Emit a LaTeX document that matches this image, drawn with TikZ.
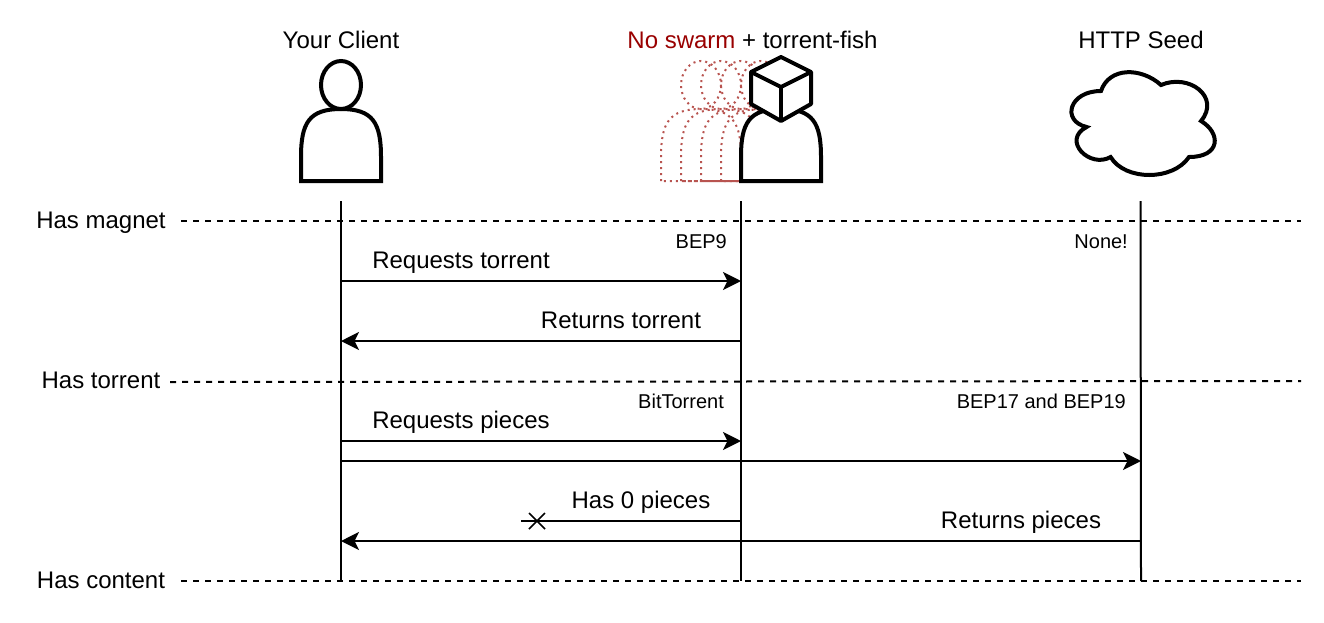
\documentclass[tikz,border=0pt]{standalone}
\usepackage{fontspec}
\setmainfont{Liberation Sans}
\usetikzlibrary{arrows.meta}
\definecolor{ghost}{HTML}{B85450}
\definecolor{swarm}{HTML}{990000}
\newcommand{\personshape}[2]{%
  \begin{scope}[shift={(#1,61)}]
    \draw[#2] (0,120) -- (0,96) .. controls (0,62) and (8,48) .. (40,48)
      .. controls (72,48) and (80,62) .. (80,96) -- (80,120) -- cycle;
    \draw[#2] (40,24) ellipse [x radius=20,y radius=24];
  \end{scope}}
\tikzset{
  x=1pt,y=-1pt,
  lbl/.style={inner sep=0pt,anchor=base,font=\fontsize{24}{28}\selectfont,text=black},
  small/.style={inner sep=0pt,anchor=base east,font=\fontsize{20}{24}\selectfont,text=black},
  icon/.style={draw=black,fill=white,line width=4pt,line join=miter},
  ghostperson/.style={draw=ghost,line width=2pt,dash pattern=on 2pt off 4pt},
  level/.style={draw=black,line width=2pt,dash pattern=on 6pt off 6pt},
  life/.style={draw=black,line width=2pt},
  msg/.style={draw=black,line width=2pt,-{Stealth[length=18pt,width=18pt,inset=4.5pt]}},
  lost/.style={draw=black,line width=2pt},
}
\begin{document}
\begin{tikzpicture}
\useasboundingbox (0,0) rectangle (1324,622);
% ghosts
\personshape{661}{ghostperson}
\personshape{681}{ghostperson}
\personshape{701}{ghostperson}
\personshape{721}{ghostperson}
% persons
\personshape{301}{icon}
\personshape{741}{icon}
% cube
\draw[icon,line join=round] (781,57) -- (811,72) -- (811,104) -- (781,121) -- (751,104) -- (751,72) -- cycle;
\draw[icon,fill=none,line join=round] (751,72) -- (781,87) -- (811,72);
\draw[icon,fill=none] (781,87) -- (781,121);
% cloud
\begin{scope}[shift={(1061,61)},x=1.6pt,y=-1.2pt]
\draw[icon,line join=miter] (25,25) .. controls (5,25) and (0,50) .. (16,55)
  .. controls (0,66) and (18,90) .. (31,80)
  .. controls (40,100) and (70,100) .. (80,80)
  .. controls (100,80) and (100,60) .. (87.5,50)
  .. controls (100,30) and (80,10) .. (62.5,20)
  .. controls (50,5) and (30,5) .. (25,25) -- cycle;
\end{scope}
% titles
\node[lbl] (tclient) at (341,48.5) {Your Client};
\node[lbl] (tswarm) at (752.5,48.5) {\textcolor{swarm}{No swarm} + torrent-fish};
\node[lbl] (tseed) at (1141,48.5) {HTTP Seed};
\node[lbl] (lmagnet) at (101,228.5) {Has magnet};
\node[lbl] (ltorrent) at (101,388.5) {Has torrent};
\node[lbl] (lcontent) at (101,588.5) {Has content};
% coordinates
\coordinate (m1) at (181,221); \coordinate (m2) at (1301,221);
\coordinate (t1) at (170,382); \coordinate (t2) at (1301,381);
\coordinate (c1) at (181,581); \coordinate (c2) at (1301,581);
\coordinate (aT) at (341,201); \coordinate (aB) at (341,581);
\coordinate (bT) at (741,201); \coordinate (bB) at (741,581);
\coordinate (cT) at (1140.5,201); \coordinate (cB) at (1141,581);
\draw[level] (m1) -- (m2);
\draw[level] (t1) -- (t2);
\draw[level] (c1) -- (c2);
\draw[life] (aT) -- (aB);
\draw[life] (bT) -- (bB);
\draw[life] (cT) -- (cB);
% messages
\foreach \n/\y in {a1/281,a2/341,a3/441,a4/461,a5/521,a6/541}{\coordinate (\n) at (341,\y);}
\foreach \n/\y in {b1/281,b2/341,b3/441,b5/521,b6/541}{\coordinate (\n) at (741,\y);}
\coordinate (c4) at (1141,461);
\coordinate (c6) at (1141,541);
\coordinate (x) at (521,521);
\draw[msg] (a1) -- (b1);
\draw[msg] (b2) -- (a2);
\draw[msg] (a3) -- (b3);
\draw[msg] (a4) -- (c4);
\draw[lost] (b5) -- (x);
\draw[msg] (c6) -- (a6);
\coordinate (xa) at (529,513); \coordinate (xb) at (545,529);
\coordinate (xc) at (529,529); \coordinate (xd) at (545,513);
\draw[lost,line width=1.5pt] (xa) -- (xb);
\draw[lost,line width=1.5pt] (xc) -- (xd);
% labels
\node[lbl] (n1) at (461,268.5) {Requests torrent};
\node[lbl] (n2) at (621,328.5) {Returns torrent};
\node[lbl] (n3) at (461,428.5) {Requests pieces};
\node[lbl] (n4) at (641,508.5) {Has 0 pieces};
\node[lbl] (n5) at (1021,528.5) {Returns pieces};
\node[small] (s1) at (727,248) {BEP9};
\node[small] (s2) at (1128,248) {None!};
\node[small] (s3) at (724,408) {BitTorrent};
\node[small] (s4) at (1126,408) {BEP17 and BEP19};
\end{tikzpicture}
\end{document}
